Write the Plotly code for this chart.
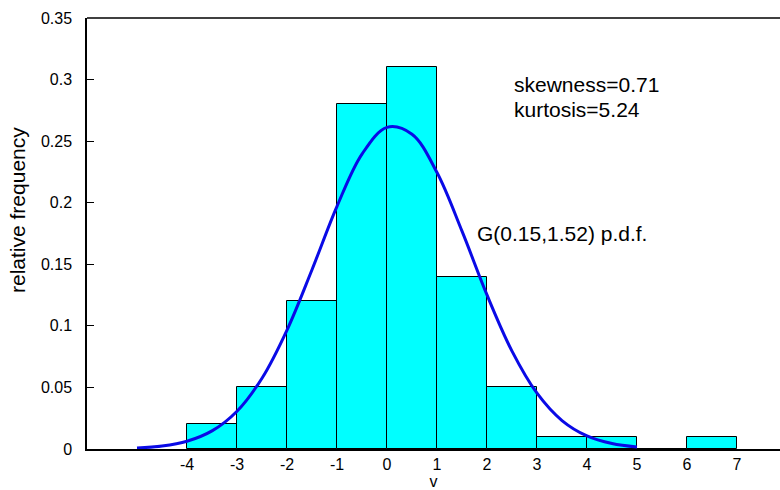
import plotly.graph_objects as go

# Histogram bins (left edges) and relative frequencies
bin_left = [-4, -3, -2, -1, 0, 1, 2, 3, 4, 5, 6]
rel_freq = [0.02, 0.05, 0.12, 0.28, 0.31, 0.14, 0.05, 0.01, 0.01, 0.0, 0.01]

# Fitted p.d.f. curve
pdf_x = [-5, -4.5, -4, -3.5, -3, -2.5, -2, -1.5, -1, -0.5, 0, 0.5, 1, 1.5, 2, 2.5, 3, 3.5, 4, 4.5, 5]
pdf_y = [0.0008, 0.0024, 0.0063, 0.0147, 0.0307, 0.0575, 0.0966, 0.1456, 0.1971, 0.2395, 0.2612,
         0.2556, 0.2245, 0.1769, 0.1251, 0.0795, 0.0453, 0.0231, 0.0106, 0.0044, 0.0016]

y_ticks = [0, 0.05, 0.1, 0.15, 0.2, 0.25, 0.3, 0.35]
x_ticks = [-4, -3, -2, -1, 0, 1, 2, 3, 4, 5, 6, 7]
x_tick_text = ["-4", "-3", "-2", "-1", "0", "1", "2", "3", "4", "5", "6", "7"]

FONT = "Liberation Sans, Arial, sans-serif"

fig = go.Figure()
fig.add_trace(go.Bar(
    x=[b + 0.5 for b in bin_left], y=rel_freq, width=1,
    marker=dict(color="#00FFFF", line=dict(color="black", width=1)),
    showlegend=False, hoverinfo="skip",
))
fig.add_trace(go.Scatter(
    x=pdf_x, y=pdf_y, mode="lines", line=dict(color="#0a0ae6", width=3, shape="spline"),
    showlegend=False, hoverinfo="skip",
))

fig.update_layout(
    width=780, height=490,
    margin=dict(l=87, r=0, t=18, b=41),
    plot_bgcolor="white", paper_bgcolor="white",
    font=dict(family=FONT, size=16, color="black"),
    bargap=0,
    xaxis=dict(
        range=[-6, 7.86], tickmode="array", tickvals=x_ticks, ticktext=x_tick_text,
        ticks="", showgrid=False, zeroline=False,
        showline=True, linecolor="black", linewidth=1.5,
        title=dict(text="v", font=dict(size=16), standoff=2),
        tickfont=dict(size=16),
    ),
    yaxis=dict(
        range=[0, 0.35], tickmode="array", tickvals=y_ticks,
        ticks="inside", ticklen=7, tickcolor="black",
        showgrid=False, zeroline=False,
        showline=True, linecolor="black", linewidth=1.5,
        ticklabelstandoff=10,
        tickfont=dict(size=16),
    ),
    shapes=[dict(type="line", xref="paper", yref="paper", x0=0, x1=1, y0=1, y1=1,
                 line=dict(color="black", width=1.5))],
    annotations=[
        dict(x=(17 - 87) / 693, y=(449 - 210) / 431, xref="paper", yref="paper",
             text="relative frequency", showarrow=False, textangle=-90,
             xanchor="center", yanchor="middle", font=dict(size=21)),
        dict(x=2.5, y=0.2964, xref="x", yref="y", text="skewness=0.71", showarrow=False,
             xanchor="left", yanchor="middle", font=dict(size=21)),
        dict(x=2.5, y=0.2761, xref="x", yref="y", text="kurtosis=5.24", showarrow=False,
             xanchor="left", yanchor="middle", font=dict(size=21)),
        dict(x=1.76, y=0.1754, xref="x", yref="y", text="G(0.15,1.52) p.d.f.", showarrow=False,
             xanchor="left", yanchor="middle", font=dict(size=21)),
    ],
)

fig.write_html("out.html")
